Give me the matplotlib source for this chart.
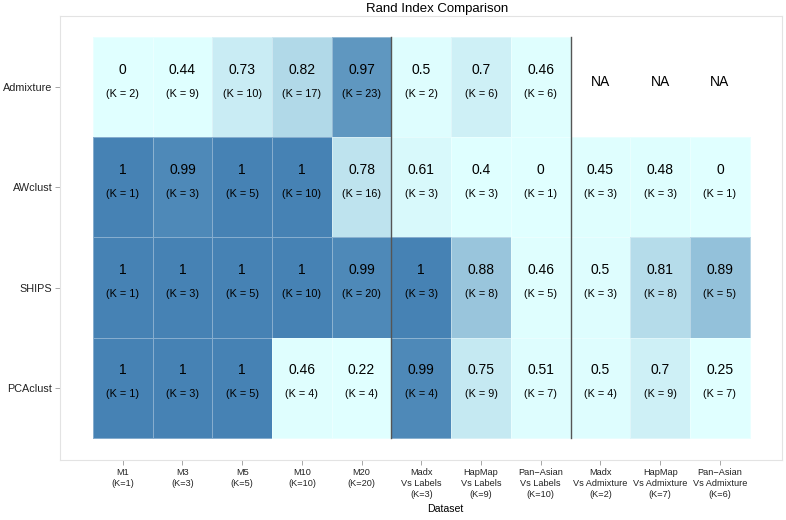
import numpy as np
import matplotlib.pyplot as plt
from matplotlib.colors import LinearSegmentedColormap, PowerNorm

plt.rcParams['font.family'] = ['Liberation Sans', 'DejaVu Sans']

methods = ['Admixture', 'AWclust', 'SHIPS', 'PCAclust']
datasets = ['M1\n(K=1)', 'M3\n(K=3)', 'M5\n(K=5)', 'M10\n(K=10)', 'M20\n(K=20)',
            'Madx\nVs Labels\n(K=3)', 'HapMap\nVs Labels\n(K=9)', 'Pan\u2212Asian\nVs Labels\n(K=10)',
            'Madx\nVs Admixture\n(K=2)', 'HapMap\nVs Admixture\n(K=7)', 'Pan\u2212Asian\nVs Admixture\n(K=6)']

admixture_ri = [0, 0.44, 0.73, 0.82, 0.97, 0.5, 0.7, 0.46, None, None, None]
admixture_k = [2, 9, 10, 17, 23, 2, 6, 6, None, None, None]
awclust_ri = [1, 0.99, 1, 1, 0.78, 0.61, 0.4, 0, 0.45, 0.48, 0]
awclust_k = [1, 3, 5, 10, 16, 3, 3, 1, 3, 3, 1]
ships_ri = [1, 1, 1, 1, 0.99, 1, 0.88, 0.46, 0.5, 0.81, 0.89]
ships_k = [1, 3, 5, 10, 20, 3, 8, 5, 3, 8, 5]
pcaclust_ri = [1, 1, 1, 0.46, 0.22, 0.99, 0.75, 0.51, 0.5, 0.7, 0.25]
pcaclust_k = [1, 3, 5, 4, 4, 4, 9, 7, 4, 9, 7]

ri = [admixture_ri, awclust_ri, ships_ri, pcaclust_ri]
ks = [admixture_k, awclust_k, ships_k, pcaclust_k]

vals = np.ma.masked_invalid(np.array([[np.nan if v is None else v for v in r] for r in ri], dtype=float))

cmap = LinearSegmentedColormap.from_list('ri', ['#e0ffff', '#4682b4'])
norm = PowerNorm(gamma=6, vmin=0, vmax=1)

fig = plt.figure(figsize=(7.86, 5.2), dpi=100)
ax = fig.add_axes([60 / 786, 60 / 520, 722 / 786, 444 / 520])

nx, ny = len(datasets), len(methods)
xe = np.arange(nx + 1) + 0.5
ye = np.arange(ny + 1) + 0.5
ax.pcolormesh(xe, ye, vals, cmap=cmap, norm=norm,
              edgecolors=(1, 1, 1, 0.35), linewidth=0.6)

for i in range(ny):
    for j in range(nx):
        v = ri[i][j]
        if v is None:
            ax.text(j + 1, i + 1 - 0.05, 'NA', ha='center', va='center', fontsize=10)
        else:
            ax.text(j + 1, i + 1 - 0.175, f'{v:g}', ha='center', va='center', fontsize=10)
            ax.text(j + 1, i + 1 + 0.065, f'(K = {ks[i][j]})', ha='center', va='center', fontsize=7.8)

# separators between dataset groups
for xs in (5.5, 8.5):
    ax.plot([xs, xs], [0.5, ny + 0.5], color='#555555', lw=1)

ax.set_xlim(-0.05, nx + 1.04)
ax.set_ylim(ny + 0.72, 0.29)
ax.set_xticks(np.arange(1, nx + 1))
ax.set_xticklabels(datasets, fontsize=6.6, color='#222222', linespacing=1.3)
ax.set_yticks(np.arange(1, ny + 1))
ax.set_yticklabels(methods, fontsize=7.8, color='#222222')
ax.tick_params(length=3.5, width=0.6, color='#999999', pad=2)
for s in ax.spines.values():
    s.set_color('#e3e3e3')
    s.set_linewidth(0.8)

fig.text(437 / 786, 1 - 9 / 520, 'Rand Index Comparison', ha='center', va='center', fontsize=9.5)
fig.text(445 / 786, 1 - 509 / 520, 'Dataset', ha='center', va='center', fontsize=7.6)

fig.savefig('out.png', dpi=100)
